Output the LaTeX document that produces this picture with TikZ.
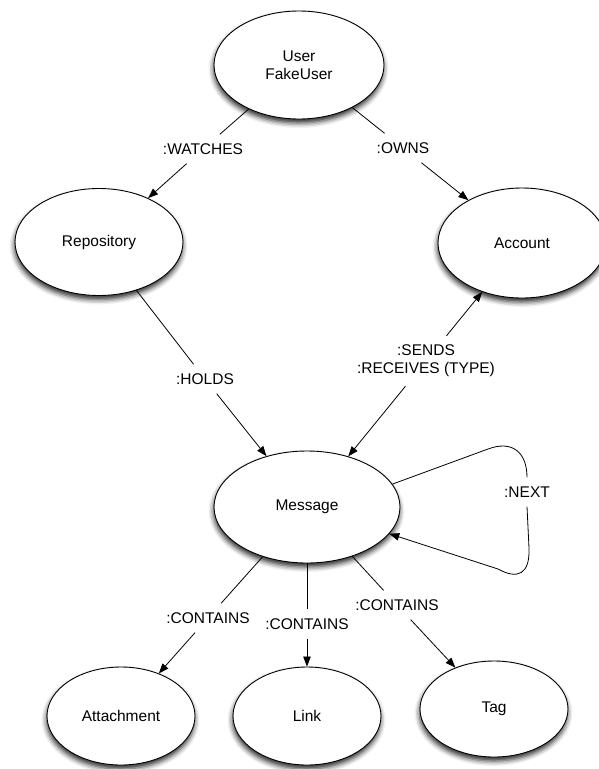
\documentclass[tikz,border=0pt]{standalone}
\usepackage{fontspec}
\setmainfont{Liberation Sans}
\usetikzlibrary{shapes.geometric,arrows.meta,shadows.blur}

\tikzset{
  entity/.style={ellipse, draw=black, line width=0.9pt, fill=white, inner sep=0pt,
    blur shadow={shadow xshift=-0.5pt, shadow yshift=-4pt, shadow blur radius=5pt, shadow opacity=85},
    font=\fontsize{15.5}{18}\selectfont, align=center},
  rel/.style={inner xsep=3pt, inner ysep=9pt, font=\fontsize{15.5}{18}\selectfont, align=center},
  link/.style={line width=0.8pt, draw=black},
  arr/.style={link, -{Triangle[length=10pt,width=7.5pt]}},
}

\begin{document}
\begin{tikzpicture}[x=1pt, y=-1pt]
  \useasboundingbox (0,0) rectangle (599,769);

  % entities
  \node[entity, minimum width=170pt, minimum height=108pt] (user) at (299,65) {User\\FakeUser};
  \node[entity, minimum width=168pt, minimum height=107pt] (repo) at (99,242) {Repository};
  \node[entity, minimum width=168pt, minimum height=110pt] (acct) at (522,243) {Account};
  \node[entity, minimum width=186pt, minimum height=112pt] (msg)  at (307,507) {Message};
  \node[entity, minimum width=148pt, minimum height=98pt]  (att)  at (121,716) {Attachment};
  \node[entity, minimum width=148pt, minimum height=98pt]  (lnk)  at (307,716) {Link};
  \node[entity, minimum width=148pt, minimum height=96pt]  (tag)  at (494,709) {Tag};

  % relationship labels
  \node[rel] (lwatch) at (203,149) {:WATCHES};
  \node[rel] (lowns)  at (403,148) {:OWNS};
  \node[rel] (lholds) at (205,379) {:HOLDS};
  \node[rel] (lsends) at (426,361) {:SENDS\\:RECEIVES (TYPE)};
  \node[rel, inner xsep=1pt] (lnext)  at (527,492) {:NEXT};
  \node[rel] (lcatt)  at (208,618) {:CONTAINS};
  \node[rel] (lclnk)  at (307,624) {:CONTAINS};
  \node[rel] (lctag)  at (397,605) {:CONTAINS};

  % relationships
  \draw[link] (user) -- (lwatch);  \draw[arr] (lwatch) -- (repo);
  \draw[link] (user) -- (lowns);   \draw[arr] (lowns) -- (acct);
  \draw[link] (repo) -- (lholds);  \draw[arr] (lholds) -- (msg);
  \draw[arr] (lsends) -- (msg);    \draw[arr] (lsends) -- (acct);
  \draw[link] (msg) -- (lcatt);    \draw[arr] (lcatt) -- (att);
  \draw[link] (msg) -- (lclnk);    \draw[arr] (lclnk) -- (lnk);
  \draw[link] (msg) -- (lctag);    \draw[arr] (lctag) -- (tag);

  % self loop on Message
  \draw[link] (msg.15) -- (488,449) .. controls (512,440) and (527,452) .. (lnext.north);
  \draw[arr] (lnext.south) -- (529,548) .. controls (530,574) and (518,580) .. (498,569) -- (msg.-18);
\end{tikzpicture}
\end{document}
